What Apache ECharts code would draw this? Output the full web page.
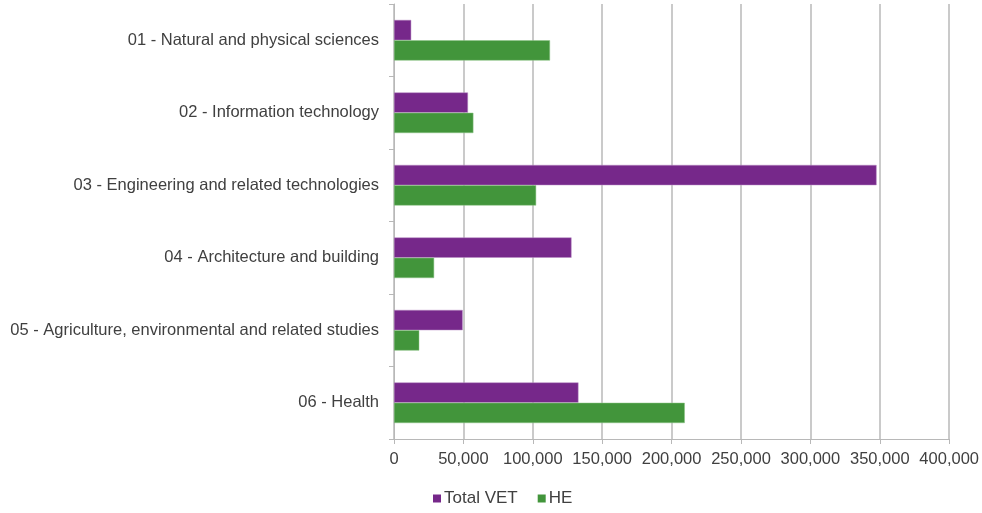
<!DOCTYPE html>
<html>
<head>
<meta charset="utf-8">
<script src="https://cdn.jsdelivr.net/npm/echarts@6/dist/echarts.min.js"></script>
<style>
  html, body { margin: 0; padding: 0; background: #fff; }
  #chart { width: 982px; height: 513px; }
</style>
</head>
<body>
<div id="chart"></div>
<script>
// categories, top to bottom
const categories = [
    '01 - Natural and physical sciences',
    '02 - Information technology',
    '03 - Engineering and related technologies',
    '04 - Architecture and building',
    '05 - Agriculture, environmental and related studies',
    '06 - Health'
];
const seriesNames = ['Total VET', 'HE'];
const vetValues = [12400, 53300, 347700, 127900, 49500, 132900];
const heValues = [112400, 57200, 102400, 28900, 18200, 209500];
const xTicks = { min: 0, max: 400000, interval: 50000 };

const textColor = '#404040';
const gridColor = '#b8b8b8';
const vetColor = '#76288a';
const heColor = '#42953b';

const chart = echarts.init(document.getElementById('chart'));

chart.setOption({
    animation: false,
    textStyle: { fontFamily: 'Liberation Sans, Arial, sans-serif' },
    legend: {
        data: seriesNames,
        bottom: 1,
        left: 428,
        icon: 'rect',
        itemWidth: 8,
        itemHeight: 8,
        itemGap: 20,
        itemStyle: { borderWidth: 0 },
        textStyle: { color: textColor, fontSize: 17, padding: [0, 0, 0, -2] }
    },
    grid: {
        left: 394,
        right: 30,
        top: 4,
        bottom: 74
    },
    xAxis: {
        type: 'value',
        min: xTicks.min,
        max: xTicks.max,
        interval: xTicks.interval,
        axisLine: { show: true, lineStyle: { color: gridColor, width: 1 } },
        axisTick: { show: true, length: 5, lineStyle: { color: gridColor } },
        axisLabel: {
            color: textColor,
            fontSize: 16.5,
            margin: 12,
            formatter: v => v.toLocaleString('en-US')
        },
        splitLine: { show: true, lineStyle: { color: gridColor, width: 1.5 } }
    },
    yAxis: {
        type: 'category',
        data: categories,
        inverse: true,
        axisLine: { show: true, lineStyle: { color: gridColor, width: 1 } },
        axisTick: { show: true, length: 5, lineStyle: { color: gridColor } },
        axisLabel: { color: textColor, fontSize: 16.5, margin: 15 }
    },
    series: [
        {
            name: seriesNames[0],
            type: 'bar',
            data: vetValues,
            barGap: 0,
            barCategoryGap: '44%',
            itemStyle: { color: vetColor, borderColor: '#b98cc4', borderWidth: 0.5 }
        },
        {
            name: seriesNames[1],
            type: 'bar',
            data: heValues,
            barGap: 0,
            barCategoryGap: '44%',
            itemStyle: { color: heColor, borderColor: '#8cc486', borderWidth: 0.5 }
        }
    ]
});
</script>
</body>
</html>
